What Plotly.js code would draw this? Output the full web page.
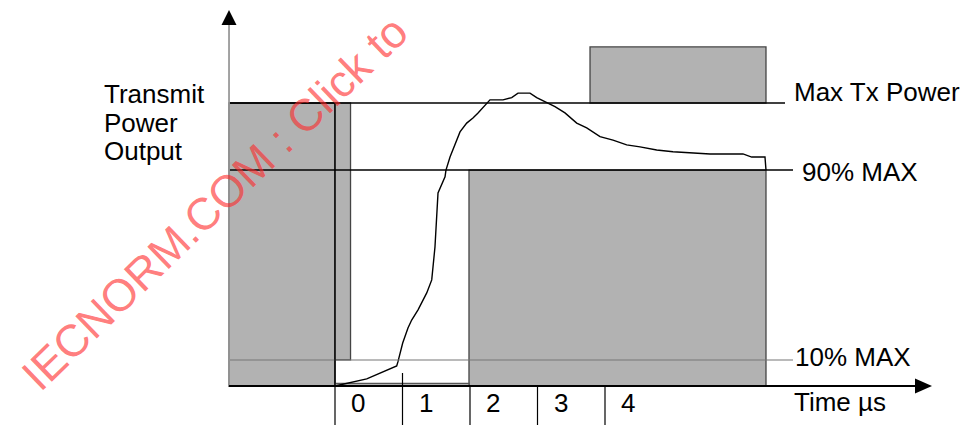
<!DOCTYPE html>
<html>
<head>
<meta charset="utf-8">
<script src="https://cdn.plot.ly/plotly-3.0.1.min.js"></script>
<style>html,body{margin:0;padding:0;background:#fff;}#chart{width:966px;height:427px;}</style>
</head>
<body>
<div id="chart"></div>
<script>
// ---- data (time in µs, power in fraction of the "Max Tx Power" level, schematic) ----
const timeUs = [0, 0.47, 0.914, 0.933, 1.003, 1.081, 1.136, 1.230, 1.359, 1.433, 1.481, 1.507, 1.526,
  1.630, 1.644, 1.704, 1.803, 1.852, 1.951, 2.044, 2.119, 2.296, 2.489, 2.618, 2.711, 2.889, 2.988,
  3.111, 3.259, 3.407, 3.581, 3.729, 3.926, 4.119, 4.321, 4.519, 4.766, 5.007, 5.556, 6.044, 6.173,
  6.370, 6.385];
const powerOut = [0, 0.025, 0.071, 0.086, 0.152, 0.205, 0.233, 0.269, 0.329, 0.375, 0.491, 0.587, 0.682,
  0.739, 0.763, 0.809, 0.869, 0.898, 0.929, 0.947, 0.965, 1.011, 1.011, 1.019, 1.035, 1.035, 1.019,
  1.005, 0.987, 0.965, 0.929, 0.912, 0.881, 0.869, 0.852, 0.845, 0.834, 0.828, 0.820, 0.820, 0.809,
  0.809, 0.763];

const levelNames  = ['Max Tx Power', '90% MAX', '10% MAX'];
const levelValues = [1.0, 0.763, 0.092];

const tickValues = [0, 1, 2, 3, 4];
const tickLabels = ['0', '1', '2', '3', '4'];

// shaded mask regions: [tStart, tEnd] x [pLow, pHigh]
const maskT0 = [-1.57, 0, 1.985, 3.778, 0];
const maskT1 = [0, 0.23, 6.385, 6.385, 1.985];
const maskP0 = [0, 0.092, 0, 1.0, 0];
const maskP1 = [1.0, 1.0, 0.763, 1.198, 0.009];

const axisTitleY = ['Transmit', 'Power', 'Output'];
const axisTitleX = 'Time \u00b5s';
const watermark = 'IECNORM.COM : Click to';

// ---- layout helpers ----
const pxPerUs = 67.5, pxPerP = 283, x0px = 335, y0px = 386, W = 966, H = 427;
const xr = [-x0px / pxPerUs, (W - x0px) / pxPerUs];
const yr = [-(H - y0px) / pxPerP, y0px / pxPerP];
const dx = px => px / pxPerUs;   // pixel -> µs span
const dy = px => px / pxPerP;    // pixel -> power span

const tLeft = maskT0[0];
const shapes = [];
const maskFill = '#b2b2b2';
const maskLine = ['#000000', '#444444', '#444444', '#444444', '#555555'];
for (let i = 0; i < maskT0.length; i++) {
  shapes.push({type: 'rect', xref: 'x', yref: 'y', layer: 'below',
    x0: maskT0[i], x1: maskT1[i], y0: maskP0[i], y1: maskP1[i],
    fillcolor: maskFill, line: {color: maskLine[i], width: 1.3}});
}
// level lines
const levelEnds = [dx(785 - x0px), dx(793 - x0px), dx(793 - x0px)];
const levelColors = ['#000', '#000', '#777'];
const levelWidths = [1.4, 1.4, 1.1];
for (let i = 0; i < levelValues.length; i++) {
  shapes.push({type: 'line', xref: 'x', yref: 'y', x0: tLeft, x1: levelEnds[i],
    y0: levelValues[i], y1: levelValues[i], line: {color: levelColors[i], width: levelWidths[i]}});
}
// y axis line + arrow
const yArrowBase = yr[1] - dy(25), yArrowTip = yr[1] - dy(10);
shapes.push({type: 'line', xref: 'x', yref: 'y', x0: tLeft, x1: tLeft, y0: 0, y1: yArrowBase,
  line: {color: '#999', width: 1.8}});
shapes.push({type: 'path', xref: 'x', yref: 'y',
  path: `M ${tLeft - dx(7.5)} ${yArrowBase} L ${tLeft + dx(7.5)} ${yArrowBase} L ${tLeft} ${yArrowTip} Z`,
  fillcolor: '#000', line: {width: 0}});
// x axis line + arrow
const xArrowBase = dx(915 - x0px), xArrowTip = dx(932 - x0px);
shapes.push({type: 'line', xref: 'x', yref: 'y', x0: tLeft, x1: xArrowBase, y0: 0, y1: 0,
  line: {color: '#000', width: 2}});
shapes.push({type: 'path', xref: 'x', yref: 'y',
  path: `M ${xArrowBase} ${dy(7.5)} L ${xArrowBase} ${-dy(7.5)} L ${xArrowTip} 0 Z`,
  fillcolor: '#000', line: {width: 0}});
// tick marks
const tickBottom = -dy(425 - y0px);
tickValues.forEach((t, i) => {
  let top = 0;
  if (i === 0) top = levelValues[0];
  if (i === 1) top = dy(y0px - 373);
  shapes.push({type: 'line', xref: 'x', yref: 'y', x0: t, x1: t, y0: tickBottom, y1: top,
    line: {color: '#000', width: 1.2}});
});

const font = {family: 'Arial, "Liberation Sans", sans-serif', size: 26, color: '#000'};
const annotations = [];
tickValues.forEach((t, i) => {
  annotations.push({xref: 'x', yref: 'y', x: t + dx(23), y: -dy(403 - y0px), text: tickLabels[i],
    showarrow: false, xanchor: 'center', yanchor: 'middle', font});
});
const levelLabelX = [792, 800, 793];
const levelLabelShift = [11, -2, 3];
levelNames.forEach((n, i) => {
  annotations.push({xref: 'x', yref: 'y', x: dx(levelLabelX[i] - x0px), y: levelValues[i],
    yshift: levelLabelShift[i], text: n, showarrow: false, xanchor: 'left', yanchor: 'middle', font});
});
annotations.push({xref: 'x', yref: 'y', x: dx(792 - x0px), y: -dy(402 - y0px), text: axisTitleX,
  showarrow: false, xanchor: 'left', yanchor: 'middle', font});
const titleYpx = [94, 122.5, 151];
axisTitleY.forEach((s, i) => {
  annotations.push({xref: 'paper', yref: 'paper', x: 102 / W, y: 1 - titleYpx[i] / H, text: s,
    showarrow: false, xanchor: 'left', yanchor: 'middle', font});
});
annotations.push({xref: 'paper', yref: 'paper', x: 214 / W, y: 1 - 203 / H, text: watermark,
  textangle: -44, showarrow: false, xanchor: 'center', yanchor: 'middle',
  font: {family: 'Arial, "Liberation Sans", sans-serif', size: 45, color: 'rgba(255,40,40,0.62)'}});

const traces = [{x: timeUs, y: powerOut, type: 'scatter', mode: 'lines',
  line: {color: '#000', width: 1.4}, hoverinfo: 'skip'}];

const layout = {
  width: W, height: H, margin: {l: 0, r: 0, t: 0, b: 0},
  paper_bgcolor: '#fff', plot_bgcolor: '#fff', showlegend: false,
  xaxis: {range: xr, visible: false, fixedrange: true},
  yaxis: {range: yr, visible: false, fixedrange: true},
  shapes, annotations
};
Plotly.newPlot('chart', traces, layout, {staticPlot: true, displayModeBar: false});
</script>
</body>
</html>
